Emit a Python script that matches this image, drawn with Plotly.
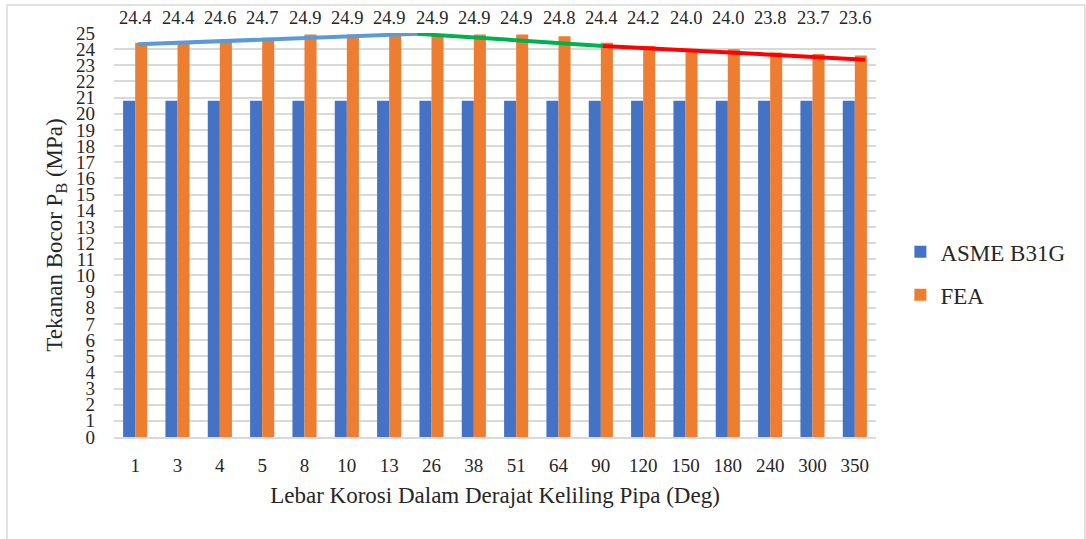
import plotly.graph_objects as go

categories = ["1", "3", "4", "5", "8", "10", "13", "26", "38", "51", "64", "90",
              "120", "150", "180", "240", "300", "350"]
asme = [20.8] * 18
fea = [24.4, 24.4, 24.6, 24.7, 24.9, 24.9, 24.9, 24.9, 24.9, 24.9, 24.8, 24.4,
       24.2, 24.0, 24.0, 23.8, 23.7, 23.6]
fea_labels = ["24.4", "24.4", "24.6", "24.7", "24.9", "24.9", "24.9", "24.9", "24.9",
              "24.9", "24.8", "24.4", "24.2", "24.0", "24.0", "23.8", "23.7", "23.6"]
y_ticks = list(range(0, 26))

# trend segments (category-index positions, values)
trend_blue_x = [0.07, 6.66]
trend_blue_y = [24.3, 24.95]
trend_green_x = [6.66, 11.05]
trend_green_y = [24.95, 24.2]
trend_red_x = [11.05, 17.24]
trend_red_y = [24.2, 23.35]

idx = list(range(len(categories)))
FONT = "Liberation Serif"

fig = go.Figure()
fig.add_trace(go.Bar(x=idx, y=asme, name="ASME B31G", marker_color="#4472C4",
                     marker_line_width=0, legendgroup="a"))
fig.add_trace(go.Bar(x=idx, y=fea, name="FEA", marker_color="#ED7D31",
                     marker_line_width=0, legendgroup="b"))
for xs, ys, col in [(trend_blue_x, trend_blue_y, "#5B9BD5"),
                    (trend_green_x, trend_green_y, "#00B050"),
                    (trend_red_x, trend_red_y, "#FF0000")]:
    fig.add_trace(go.Scatter(x=xs, y=ys, mode="lines", line=dict(color=col, width=4),
                             showlegend=False, hoverinfo="skip", cliponaxis=False))

for i, t in zip(idx, fea_labels):
    fig.add_annotation(x=i, y=1.037, xref="x", yref="paper", yanchor="middle",
                       text=t, showarrow=False,
                       font=dict(family=FONT, size=18.5, color="#262626"))

fig.add_shape(type="rect", xref="paper", yref="paper", x0=-0.1404, x1=1.274,
              y0=-0.3, y1=1.069, line=dict(color="#D9D9D9", width=1.5),
              fillcolor="rgba(0,0,0,0)", layer="below")

fig.update_layout(
    width=1086, height=539,
    margin=dict(l=114, r=210, t=33, b=102, autoexpand=False),
    paper_bgcolor="white", plot_bgcolor="white",
    barmode="group", bargap=0.43, bargroupgap=0,
    font=dict(family=FONT, color="#262626"),
    legend=dict(x=1.032, y=0.405, yanchor="middle", xanchor="left",
                font=dict(family=FONT, size=23), tracegroupgap=10,
                itemwidth=30),
    xaxis=dict(tickmode="array", tickvals=idx, ticktext=categories,
               range=[-0.5, 17.5], showgrid=False, showline=True,
               linecolor="#D9D9D9", linewidth=1.5,
               tickfont=dict(family=FONT, size=19), ticks="", ticklabelstandoff=10,
               title=dict(text="Lebar Korosi Dalam Derajat Keliling Pipa (Deg)",
                          font=dict(family=FONT, size=23), standoff=12)),
    yaxis=dict(range=[0, 25], tickmode="array", tickvals=y_ticks,
               showgrid=True, gridcolor="#D9D9D9", gridwidth=1.5,
               zeroline=False, showline=False,
               tickfont=dict(family=FONT, size=19), ticks="", ticklabelstandoff=18,
               title=dict(text="Tekanan Bocor P<sub>B</sub> (MPa)",
                          font=dict(family=FONT, size=23), standoff=6)),
)

fig.write_html("out.html", config={"displayModeBar": False},
               post_script="document.body.style.margin='0';")
